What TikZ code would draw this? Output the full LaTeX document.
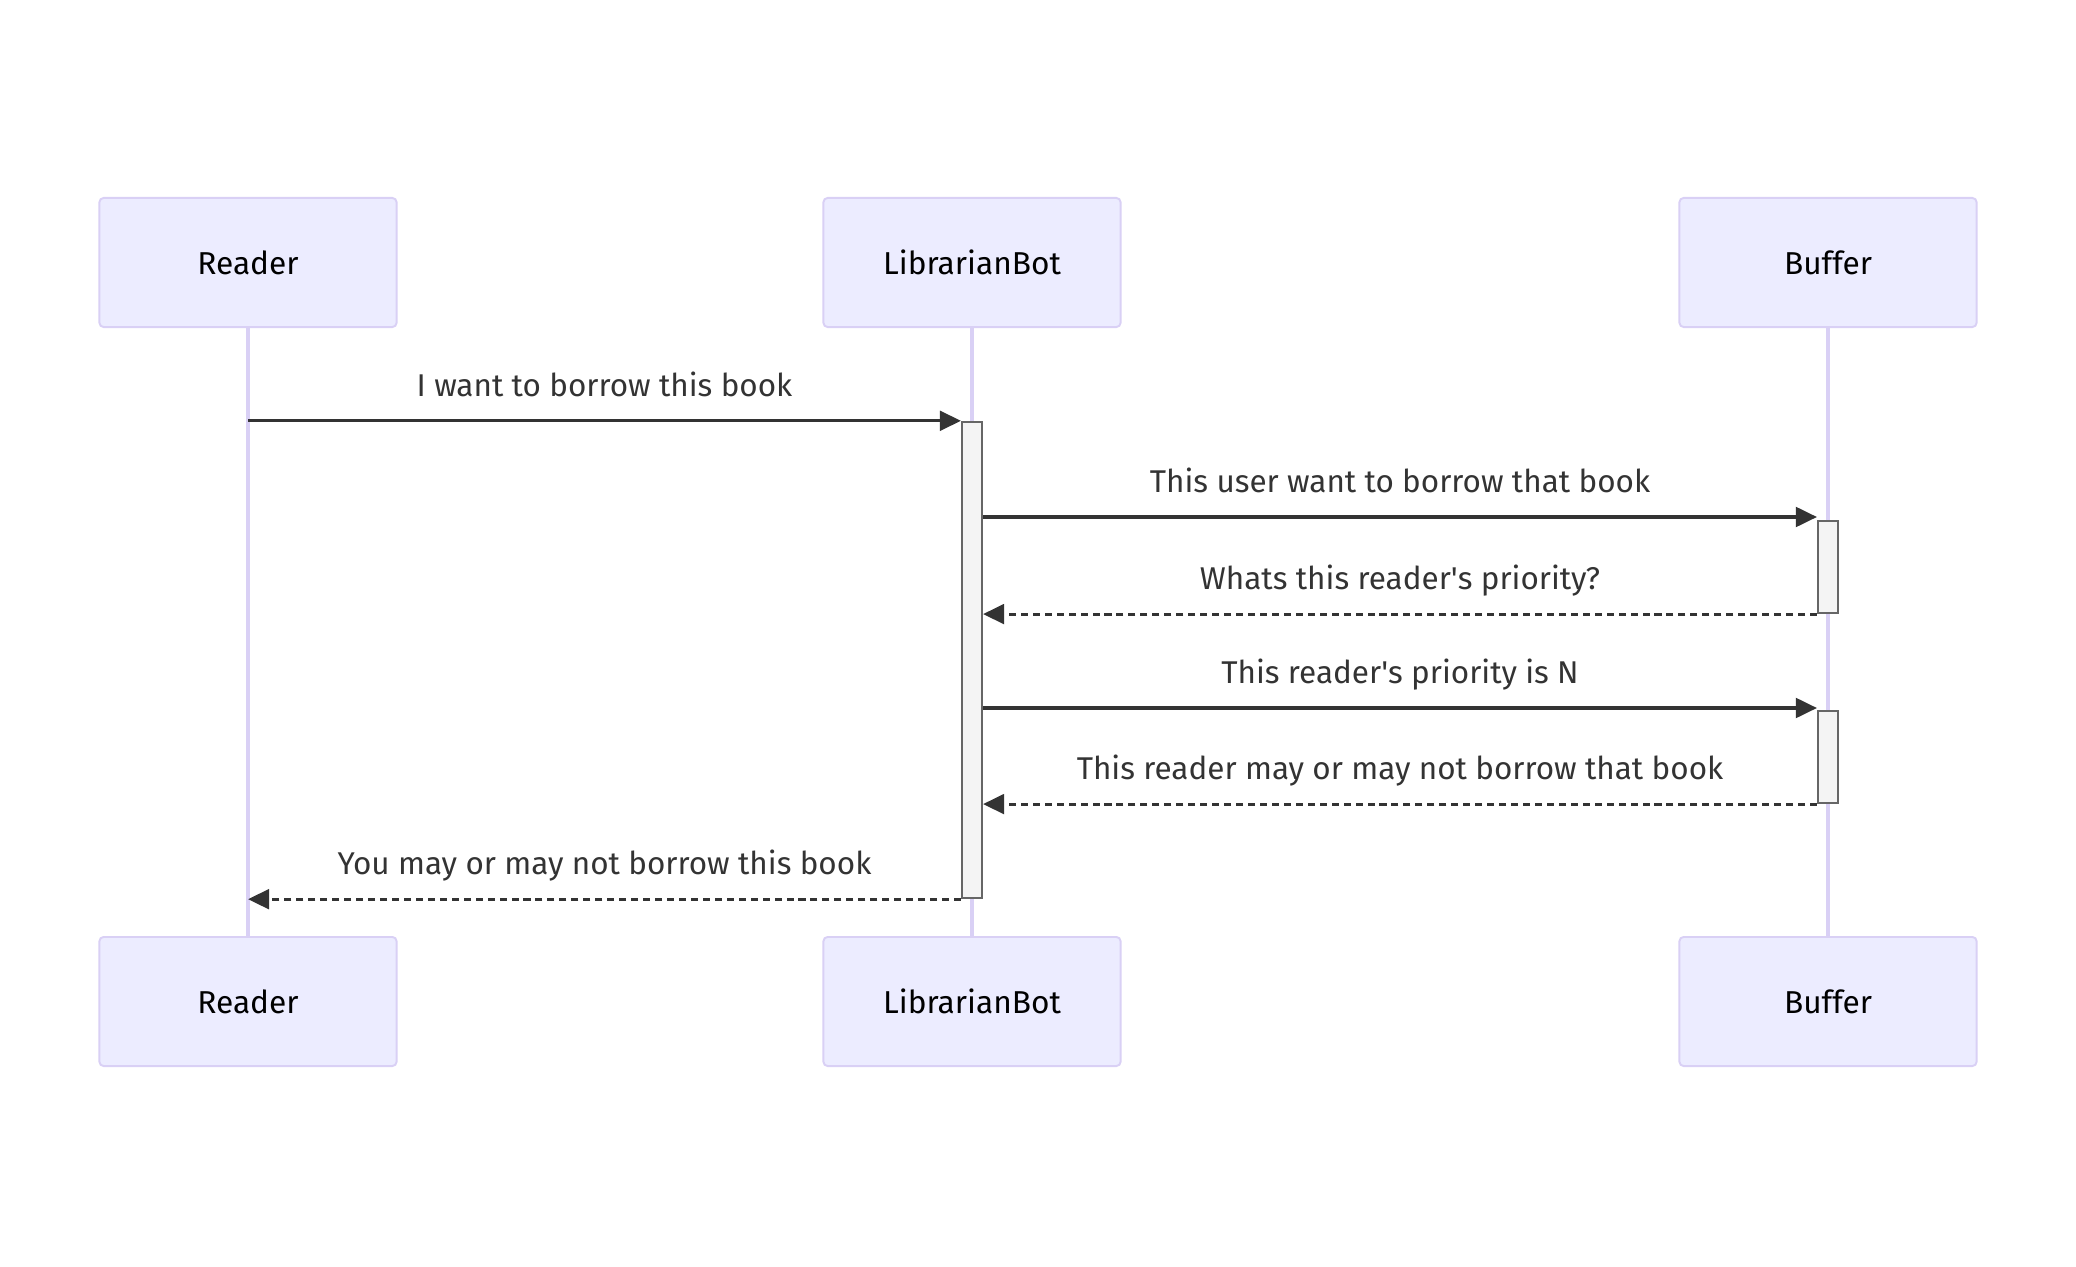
\documentclass[tikz,border=0pt]{standalone}
\usepackage{fontspec}
\setmainfont{Fira Sans}
\usetikzlibrary{arrows.meta}

\definecolor{actfill}{HTML}{ECECFF}
\definecolor{actline}{HTML}{D9D0F5}
\definecolor{msgline}{HTML}{333333}
\definecolor{barfill}{HTML}{F4F4F4}
\definecolor{barline}{HTML}{666666}

\begin{document}
\begin{tikzpicture}[x=0.01cm,y=-0.01cm,
  actor/.style={draw=actline,fill=actfill,line width=0.55pt,rounded corners=1.2pt,
    minimum width=2.97cm,minimum height=1.29cm,inner sep=0pt,
    font=\fontsize{9}{11}\selectfont,text=black},
  life/.style={draw=actline,line width=1.1pt},
  bar/.style={draw=barline,fill=barfill,line width=0.6pt,minimum width=0.2cm,inner sep=0pt},
  msg/.style={draw=msgline,line width=0.9pt,-{Triangle[length=6pt,width=5.6pt]}},
  reply/.style={msg,dash pattern=on 2pt off 1.4pt},
  lbl/.style={anchor=base,yshift=0.245cm,inner sep=0pt,text=msgline,
    font=\fontsize{8.95}{11}\selectfont}]

\useasboundingbox (0,0) rectangle (2076,1267);

% Actors, top row
\node[actor] (reader) at (248,262.5) {Reader};
\node[actor] (bot) at (972,262.5) {LibrarianBot};
\node[actor] (buffer) at (1828,262.5) {Buffer};

% Actors, bottom row
\node[actor] (readerB) at (248,1001.5) {Reader};
\node[actor] (botB) at (972,1001.5) {LibrarianBot};
\node[actor] (bufferB) at (1828,1001.5) {Buffer};

% Lifelines
\draw[life] (reader.south) -- (readerB.north);
\draw[life] (bot.south) -- (botB.north);
\draw[life] (buffer.south) -- (bufferB.north);

% Activations
\node[bar,minimum height=4.76cm] (actBot) at (972,660) {};
\node[bar,minimum height=0.92cm] (actBuf1) at (1828,567) {};
\node[bar,minimum height=0.92cm] (actBuf2) at (1828,757) {};

% Message rows
\coordinate (m2) at (0,517);
\coordinate (m4) at (0,708);

% Messages
\draw[msg] (reader |- actBot.north) -- node[lbl] {I want to borrow this book} (actBot.north west);
\draw[msg] (actBot.east |- m2) -- node[lbl] {This user want to borrow that book} (actBuf1.west |- m2);
\draw[reply] (actBuf1.south west) -- node[lbl] {Whats this reader\textquotesingle s priority?} (actBot.east |- actBuf1.south);
\draw[msg] (actBot.east |- m4) -- node[lbl] {This reader\textquotesingle s priority is N} (actBuf2.west |- m4);
\draw[reply] (actBuf2.south west) -- node[lbl] {This reader may or may not borrow that book} (actBot.east |- actBuf2.south);
\draw[reply] (actBot.south west) -- node[lbl] {You may or may not borrow this book} (reader |- actBot.south);

\end{tikzpicture}
\end{document}
